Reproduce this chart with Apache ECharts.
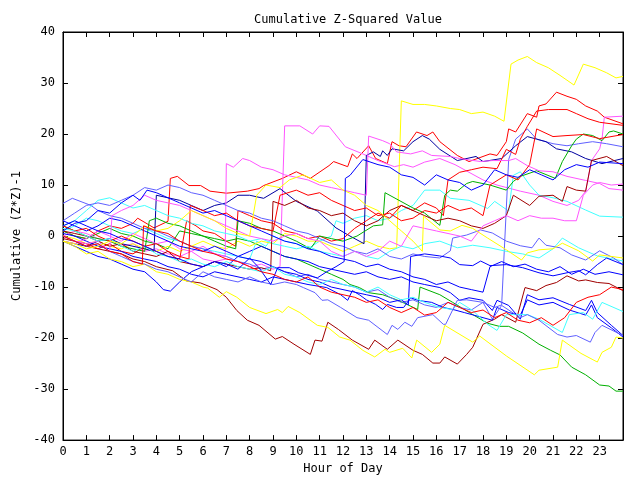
<!DOCTYPE html>
<html><head><meta charset="utf-8">
<script src="https://cdn.jsdelivr.net/npm/echarts@6/dist/echarts.min.js"></script>
<style>html,body{margin:0;padding:0;background:#fff}#c{width:640px;height:480px}</style>
</head><body><div id="c"></div>
<script>
const hourTicks = ['0','1','2','3','4','5','6','7','8','9','10','11','12','13','14','15','16','17','18','19','20','21','22','23'];

const yellowTop = [[0,0],[0.5,-0.5],[1,-1.5],[1.5,-1],[2,-2],[2.5,-2.5],[3,-1.5],[3.5,-2.5],[4,-3],[4.5,-2],[5,-3],[5.5,-2],[6,-1],[6.5,-2],[7,-2.5],[7.5,-1],[8,-2],[8.5,-1],[9,-1.5],[9.5,0.5],[10,0],[10.5,-1],[11,-1],[11.5,-2],[12,-3],[12.5,-2],[13,-1],[13.5,-2],[14,-2.5],[14.3,-2.3],[14.5,26.5],[15,25.8],[15.5,25.8],[16,25.5],[16.6,25],[17,24.8],[17.5,24],[18,24.3],[18.5,23.5],[18.9,22.5],[19.2,33.7],[19.5,34.5],[19.9,35.2],[20.3,34],[20.8,33],[21.3,31.5],[21.9,29.6],[22.3,33.7],[22.8,33],[23.3,32],[23.7,31],[24,31.3]];
const yellowLow = [[0,-1],[0.5,-2],[1,-3.5],[1.5,-3],[2,-4.5],[2.5,-5],[3,-6],[3.5,-5.5],[4,-7],[4.5,-7.5],[5,-8.5],[5.5,-9],[6,-10],[6.2,-10.2],[6.7,-12],[7,-10.9],[7.45,-12],[8,-14],[8.7,-15.2],[9.2,-14.4],[9.4,-15],[9.65,-13.8],[10.15,-15],[10.9,-17.5],[11.35,-17.9],[11.86,-19.8],[12.3,-20.4],[12.85,-22.4],[13.36,-23.7],[13.8,-22.2],[14,-22.8],[14.56,-22],[14.95,-23.9],[15.16,-20.4],[15.8,-22.8],[16.15,-21.2],[16.36,-17.5],[17.56,-20.8],[17.86,-19.6],[19,-23.5],[20.2,-27.2],[20.4,-26.3],[21.2,-25.7],[21.4,-20.4],[22.2,-23],[22.9,-24.7],[23.1,-22.8],[23.5,-21.8],[23.7,-19.8],[24,-20]];
const yellowMid = [[0,-1],[0.5,-1.5],[1,-2.5],[1.5,-2],[2,-1],[2.5,-1.5],[3,0],[3.5,2],[4,1],[4.5,1.5],[5,3],[5.5,5],[6,4],[6.5,3],[7,1.5],[7.5,0.5],[8,0],[8.3,8],[8.7,10],[9.3,9.5],[9.7,11],[10.3,12],[11,10.5],[11.5,11],[12,9],[12.5,8],[13,6],[13.5,5],[14,3],[14.5,1],[15,-1],[15.4,-3],[15.45,3.9],[16.15,1.2],[16.6,1],[17.1,2.1],[17.56,1.5],[18.2,-0.4],[19,-2.7],[19.65,-4.7],[19.9,-3.3],[20.4,-2.7],[21,-2.5],[21.4,-1.4],[22.1,-2.9],[22.7,-4.9],[23,-3.7],[24,-4.3]];
const redTop = [[0,1],[0.5,0],[1,-0.5],[1.5,1],[2,2],[2.5,1.5],[3,2.5],[3.2,3.5],[3.9,1.6],[4.5,2.9],[4.6,11.3],[4.9,11.7],[5.4,9.9],[5.9,9.9],[6.3,8.8],[7,8.4],[7.9,8.8],[8.4,9.3],[8.6,9.9],[9.4,11.3],[10,12.6],[10.6,11.3],[11.4,13.8],[11.6,14.6],[12.2,13.6],[12.4,16.1],[12.6,15.2],[13.1,17.7],[13.4,15.2],[13.9,14.2],[14.1,18.5],[14.4,17.7],[14.7,17.5],[15.15,20.4],[15.6,19.7],[15.85,20.4],[16.15,18.5],[16.9,15.8],[17.4,14.6],[18.3,16.1],[18.6,15.8],[19,18.5],[19.1,21],[19.4,20.4],[19.9,24],[20.3,23.3],[20.4,25.5],[20.7,25.9],[21.15,28.2],[21.6,27.4],[22,26.8],[22.4,25.5],[22.9,24.5],[23.2,23.3],[24,22]];
const redB = [[0,0],[0.5,-1],[1,-1.5],[1.5,-2.5],[2,-1.5],[2.5,-3],[3,-3.5],[3.5,-2],[4,-3],[4.5,-4],[5,-4.5],[5.3,3],[5.7,2],[6,1],[6.5,0.5],[7,-1],[7.4,-2],[7.5,5],[8,4],[8.5,3],[9,2.5],[9.5,1],[10,0.5],[10.5,-0.5],[11,0],[11.5,-1],[12,-0.5],[12.5,1.5],[13,3],[13.5,4.5],[14,3.5],[14.5,6],[15,5],[15.5,6.5],[16,5.5],[16.3,4],[16.5,11],[17,12.5],[17.5,13],[18,13.5],[18.6,13.2],[19,17],[19.4,16],[19.6,19],[19.9,21.5],[20.3,24.5],[20.8,24.8],[21.6,24.8],[22,24],[22.5,23],[23,22.3],[24,21.7]];
const redC = [[0,2],[0.5,1],[1,1.5],[1.5,0],[2,-1],[2.5,0],[3,-1],[3.5,-2],[4,-1.5],[4.5,-3],[5,-4],[5.4,-4.5],[5.45,6],[6,5],[6.5,4],[7,4.5],[7.5,3],[8,2],[8.5,1.5],[9,1],[9.3,8],[10,9],[10.5,8],[11,8.5],[11.5,7],[12,6],[12.5,5],[13,5.5],[13.5,4],[14,4.5],[14.5,3],[15,3.5],[15.5,5],[16,4.5],[16.5,6],[17,5],[17.5,5.5],[18,4],[18.3,10],[19,12],[19.5,11],[20,14],[20.3,21],[21,19.5],[21.6,19.7],[22.3,19.9],[23,19.1],[24,19.9]];
const redLow = [[0,0],[0.5,-1],[1,-2],[1.5,-1.5],[2,-3],[2.5,-3.5],[3,-5],[3.4,-5.5],[3.45,2],[4,1],[4.5,0.5],[5,-1],[5.5,-2],[6,-3],[6.5,-3.5],[7,-4.5],[7.5,-5],[8,-6],[8.5,-7],[9,-7.5],[9.5,-8.5],[10,-9],[10.5,-8],[11,-10],[11.5,-11],[12,-11.5],[12.5,-12],[13,-13],[13.5,-12.5],[14,-14],[14.5,-15],[15,-14],[15.5,-15.5],[16,-15],[16.5,-13],[17,-14],[17.5,-15],[18,-14.5],[18.5,-16],[19,-15],[19.5,-16.5],[20,-17],[20.5,-16],[21,-17.5],[21.5,-16],[22,-13],[22.5,-12],[23,-11.5],[23.5,-10],[24,-10.5]];
const darkRedLow = [[0,-0.5],[0.5,-1],[1,-2],[1.5,-2.5],[2,-3],[2.5,-3.5],[3,-4.5],[3.5,-5],[4,-6],[4.7,-6.8],[5.3,-8.8],[5.9,-9.2],[6.6,-10.5],[7,-12],[7.45,-14.6],[7.9,-16.5],[8.4,-17.5],[9.1,-20.2],[9.4,-19.7],[9.9,-21.2],[10.6,-23.2],[10.8,-20.4],[11.1,-20.6],[11.35,-16.9],[11.8,-18.3],[12.4,-20.4],[13.1,-22.2],[13.36,-20.4],[13.9,-22.2],[14.35,-20.4],[15,-22.4],[15.4,-23.2],[15.85,-24.9],[16.15,-24.9],[16.36,-23.7],[16.9,-25.1],[17.3,-23.2],[17.56,-21.8],[18,-17.3],[18.5,-16.3],[18.8,-15.4],[19.4,-16.9],[19.8,-10.1],[20.3,-10.7],[20.7,-9.7],[21.15,-9.1],[21.6,-7.8],[22.1,-8.8],[22.4,-8.6],[22.9,-9.1],[23.4,-9.3],[24,-10.7]];
const darkRedRise = [[0,1],[0.5,0.5],[1,0],[1.5,-1],[2,-2],[2.5,-1.5],[3,-3],[3.5,-3.5],[4,-4],[4.5,-3],[5,-5],[5.5,-5.5],[6,-6],[6.5,-5],[7,-5.5],[7.5,-6],[8,-6.5],[8.5,-6.2],[8.9,-6.8],[9,6.8],[9.5,6],[10,7],[10.5,5.5],[11,5],[11.5,4],[12,4.5],[12.5,3],[13,2],[13.5,3],[14,5],[14.5,6],[15,5],[15.5,4],[16,3],[16.5,3.5],[17,3],[17.5,2],[18,1.5],[18.5,2.5],[19,4],[19.3,8],[20,6],[20.4,7.8],[21,8],[21.4,6.8],[21.6,9.7],[22,9],[22.4,8.8],[22.65,14.8],[23.3,15.6],[24,13.8]];
const greenLow = [[0,1],[0.5,0],[1,-0.5],[1.5,0.5],[2,1.5],[2.5,0.5],[3,0],[3.5,-1],[4,-1.5],[4.5,-2.5],[5,1],[5.5,0.5],[6,0],[6.5,-0.5],[7,-1],[7.5,-0.5],[8,-1],[8.5,-2],[9,-3],[9.5,-4],[10,-4.5],[10.5,-5.5],[11,-6.5],[11.5,-7.5],[12,-8.5],[12.3,-9.5],[12.7,-10.1],[13.1,-11.1],[13.7,-11.5],[14.3,-12.5],[14.65,-13.2],[15.2,-14.4],[15.3,-10],[16.15,-11.5],[16.7,-13],[17.56,-15.4],[18.2,-17.1],[18.7,-17.7],[19.1,-17.7],[19.7,-19],[20.4,-21.2],[20.9,-22.4],[21.3,-23.3],[21.8,-25.7],[22.4,-27.2],[23,-29.2],[23.4,-29.4],[23.7,-30.4],[24,-30.4]];
const greenHigh = [[0,2],[0.5,1],[1,0],[1.5,-0.5],[2,-1],[2.5,-2],[3,-2.5],[3.5,-3],[3.7,3],[4,3.5],[4.5,2.5],[5,2],[5.5,1],[6,0],[6.5,-1],[7,-2],[7.4,-2.5],[7.5,3],[8,2.5],[8.5,1.5],[9,1],[9.5,0],[10,-1],[10.6,-2.5],[11,0],[11.5,-0.5],[12,-1],[12.6,0],[13.3,2],[13.7,2.2],[13.8,8.5],[14.4,7],[15,5.5],[15.5,4.5],[16.15,2.1],[16.36,8],[16.6,9],[16.9,8.8],[17.3,10.3],[17.56,10.7],[18.3,10],[19,9],[19.3,10.7],[19.6,11.7],[20.3,12.8],[21.1,11.3],[21.4,14.6],[21.8,17.7],[22,19],[22.3,20],[22.7,19.7],[23.1,18.7],[23.4,20.4],[23.6,20.6],[24,20]];
const navyTop = [[0,-1],[0.5,-1.5],[1,-2],[1.5,-1],[2,-0.5],[2.5,-1.5],[3,-2],[3.5,-2.5],[3.9,-3],[4,8],[4.5,7.5],[5,7],[5.5,6],[6,5],[6.5,6],[7,6.5],[7.5,8],[8,8],[8.6,7.4],[9.3,9.3],[10,6.8],[10.9,4.9],[11.7,1.6],[12.3,0],[12.9,-1.5],[13,15.8],[13.3,16.5],[13.6,15.6],[13.7,16.7],[13.9,15.8],[14.1,17.1],[14.6,16.7],[15,18.5],[15.4,19.7],[15.7,19],[16.15,17],[16.9,14.8],[17.7,15.6],[18,14.6],[18.8,15.2],[19.4,17.7],[19.9,19.5],[20.3,19],[20.7,18.5],[21.15,17.1],[21.8,16.5],[22.4,15.2],[23.1,14.2],[24,15.2]];
const blueJump = [[0,2],[0.5,3],[1,2],[1.5,1],[2,0.5],[2.5,-0.5],[3,-1],[3.5,-2],[4,-3],[4.5,-4],[5,-4.5],[5.5,-5.5],[6,-6],[6.5,-5],[7,-5.5],[7.5,-6.5],[8,-4.3],[8.4,-6.2],[8.9,-9.5],[9.2,-6.2],[9.7,-6.2],[10.1,-7.2],[10.9,-8.2],[11.3,-7],[11.7,-6],[12.05,-5],[12.1,11.3],[12.3,11.9],[12.85,15],[13.5,14],[14,13.5],[14.5,12],[15,11.5],[15.5,10],[16,12],[16.5,11],[17,10.5],[17.5,9],[18,10],[18.5,13],[19,12],[19.5,11.5],[20,13],[20.5,12],[21,11],[21.5,13],[22,14],[22.5,13.5],[23,14.5],[24,14.2]];
const lightBlueJump = [[0,6.4],[0.4,7.4],[1.2,6],[1.5,5],[2,4],[2.5,3.5],[3,2.5],[3.5,1.5],[4,1],[4.5,0],[5,-1],[5.5,-2],[6,-2.5],[6.5,-3.5],[7,-4],[7.5,-5],[8,-5.5],[8.5,-6.5],[9,-6],[9.5,-7],[10,-8],[10.5,-7.5],[11,-8.5],[11.5,-9],[12,-9.5],[12.5,-10],[13,-11],[13.5,-10.5],[14,-12],[14.5,-13],[15,-12.5],[15.5,-13.5],[16,-14],[16.5,-13],[17,-14],[17.5,-14.5],[18,-13],[18.5,-14],[18.8,-13.5],[19.1,15],[19.4,19],[19.9,21],[20.3,19],[21,18.1],[21.6,17.7],[22.1,18.1],[22.7,18.5],[23.3,18.1],[24,17.5]];
const lightBlueMid = [[0,3],[0.5,4.5],[1,6],[1.5,6.5],[2,6],[2.5,7],[3,8],[3.5,9.5],[4,9],[4.5,10],[5,9.5],[5.5,8.5],[6,8],[6.5,7],[7,6],[7.5,5],[8,4.5],[8.5,3.5],[9,3],[9.5,2],[10,1],[10.5,0.5],[11,-0.5],[11.5,-1.5],[12,-2],[12.5,-3],[13,-3.5],[13.5,-2.5],[14,-4],[14.5,-4.5],[15,-3.5],[15.5,-4],[16.15,-4.3],[16.6,-2.9],[16.7,-0.4],[17.3,0.2],[17.9,1.2],[18.4,0.6],[19,-1],[19.6,-1.9],[20.1,-2.3],[20.4,-0.4],[20.7,-1.8],[21.3,-2.3],[21.8,-3.7],[22.4,-4.7],[23,-2.9],[23.6,-4.3],[24,-5.6]];
const lightBlueLow = [[0,0],[0.5,-1],[1,-2],[1.5,-1.5],[2,-3],[2.5,-4],[3,-5],[3.5,-5.5],[4,-6.5],[4.5,-7],[5,-8],[5.5,-9],[6,-7],[6.5,-8],[7,-8.5],[7.5,-9],[8,-8],[8.5,-9],[9,-9.5],[9.5,-9],[10,-9.5],[10.3,-10.1],[10.8,-11.1],[11.1,-12.6],[11.35,-12.5],[11.9,-14],[12.6,-16],[13.1,-16.5],[13.9,-19.3],[14.1,-17.5],[14.35,-18.3],[14.65,-16.9],[14.95,-17.7],[15.2,-16],[15.85,-15.4],[16.3,-17.3],[16.4,-17.3],[16.9,-12.6],[17.3,-12.5],[18,-13],[18.4,-16.3],[18.8,-13.6],[19.6,-16],[19.9,-15.4],[20.4,-16.5],[21.2,-19.3],[21.6,-19.8],[22,-19.5],[22.6,-20.8],[22.8,-18.9],[23.1,-17.5],[24,-19.5]];
const blueLowA = [[0,-1],[0.5,-2],[1,-3],[1.5,-4],[2,-4.5],[2.5,-5.5],[3,-6.5],[3.5,-7],[4,-9],[4.3,-10.5],[4.6,-10.8],[5,-9],[5.5,-7],[6,-6],[6.5,-5],[7,-6],[7.5,-4],[8,-3],[8.5,-2],[9,-3],[9.5,-4],[10,-4.5],[10.5,-5],[11,-6],[11.5,-6.5],[12,-7],[12.5,-7.5],[13,-7],[13.5,-8],[14,-8.5],[14.5,-8],[15,-9],[15.5,-9.5],[16.15,-10.1],[16.6,-11.1],[17,-12.6],[17.4,-12.1],[18,-12.6],[18.4,-14.6],[18.6,-12.6],[19.1,-13.6],[19.6,-16.3],[19.9,-11.5],[20.4,-12.5],[21,-12.1],[21.7,-13.4],[22.4,-14.6],[22.65,-12.6],[22.9,-15],[23.5,-17.5],[24,-19.5]];
const blueLowB = [[0,0.5],[0.5,0],[1,-1],[1.5,-2],[2,-2.5],[2.5,-3],[3,-4],[3.5,-4.5],[4,-5],[4.5,-6],[5,-6.5],[5.5,-7.5],[6,-8],[6.5,-7],[7,-7.5],[7.5,-8],[8,-8.5],[8.5,-9],[9,-8],[9.5,-8.5],[10,-9],[10.5,-9.5],[11.3,-10.1],[11.9,-11.5],[12.2,-12.6],[12.4,-10.7],[12.7,-11.5],[13,-12.5],[13.4,-13.4],[13.7,-14.4],[13.9,-13.4],[14.3,-14],[14.6,-14],[14.9,-12.1],[15.2,-12.6],[15.8,-13],[16.3,-14],[16.8,-14.5],[17.2,-15],[17.6,-15.5],[18,-16],[18.4,-16.5],[18.6,-14],[19.1,-15],[19.6,-15.5],[19.9,-12.5],[20.4,-13.5],[21,-13],[21.7,-14.5],[22.4,-15.5],[22.65,-13.5],[22.9,-16],[23.5,-18],[24,-19.8]];
const blueMid = [[0,3],[0.5,2],[1,1],[1.5,2],[2,3.5],[2.5,3],[3,2],[3.5,1],[4,0],[4.5,-1],[5,-2],[5.5,-2.5],[6,-3],[6.5,-2],[7,-3],[7.5,-4],[8,-4.5],[8.5,-5],[9,-6],[9.5,-7],[10,-7.5],[10.5,-8.5],[11,-9],[11.5,-10],[12,-10.5],[12.5,-11],[13,-11.5],[13.5,-12],[14,-13],[14.5,-12.5],[14.8,-13.5],[14.9,-4],[15.5,-3.5],[16.15,-3.9],[16.6,-4.3],[17,-5.6],[17.56,-5.8],[17.9,-4.9],[18.3,-5.8],[19,-5.6],[19.7,-6.2],[20.4,-7.2],[21,-7.8],[21.6,-7.2],[22.1,-6.8],[22.4,-7.6],[22.9,-5.6],[23.3,-4.3],[24,-5.6]];
const blueUpper = [[0,1],[0.5,2.5],[1,3],[1.5,5],[2,4.5],[2.5,6.5],[3,8],[3.3,7],[3.6,9],[4,8.5],[4.5,7.5],[5,6.5],[5.5,5.5],[6,4.5],[6.5,5],[7,4],[7.5,3],[8,2],[8.5,1],[9,0],[9.5,-1],[10,-1.5],[10.5,-2.5],[11,-3],[11.5,-4],[12,-4.5],[12.5,-5],[13,-6],[13.5,-5.5],[14,-6.5],[14.5,-7],[15,-8],[15.5,-8.5],[16,-9.5],[16.5,-9],[17,-10],[17.5,-10.5],[18,-11],[18.3,-6],[18.8,-5],[19.3,-6],[19.8,-5.5],[20.3,-6.5],[20.8,-7],[21.3,-6],[21.8,-7.5],[22.3,-6.5],[22.8,-7.5],[23.4,-7],[24,-7.6]];
const magentaTop = [[0,0],[0.5,1],[1,0.5],[1.5,-0.5],[2,-1],[2.5,-2],[3,-1.5],[3.5,-3],[4,-2.5],[4.5,-3.5],[5,-4],[5.5,-3],[6,-4.5],[6.5,-5],[7,-4.5],[7.5,-5],[8,-6],[8.5,-5.5],[9,-6.5],[9.3,-6],[9.5,21.6],[10.15,21.6],[10.7,20],[11,21.6],[11.4,21.5],[12.1,17.5],[12.9,16],[13.5,14.8],[14.2,13.6],[14.6,14],[15,13.5],[15.5,14.5],[16.15,15.2],[16.8,14],[17.4,12.5],[18,11],[18.6,10],[19.6,8.8],[20.4,8],[21,6.8],[21.6,6],[22.1,7],[22.4,8.8],[22.65,14.8],[23,17.1],[23.1,19],[23.2,23.3],[24,23.5]];
const magentaMid = [[0,-1],[0.5,-1.5],[1,-0.5],[1.5,1],[2,0],[2.5,-1],[3,0.5],[3.5,-0.5],[4,-1.5],[4.5,-1],[5,-2.5],[5.5,-3],[6,-2],[6.5,-3.5],[6.95,-4],[7,14.2],[7.3,13.5],[7.7,15.2],[8,14.8],[8.5,13.5],[9,13],[9.5,12],[10,11.5],[10.5,11],[11,10],[11.5,9.5],[12,9],[12.5,8.5],[13,8],[13.1,19.6],[13.7,18.7],[14,18.1],[14.3,16.5],[14.9,16.1],[15.4,16.7],[15.8,15.8],[16.6,15.6],[17,15.2],[17.9,14.6],[18.4,14.8],[19.1,14.8],[19.4,15.2],[19.9,13.8],[20.4,12.8],[21,12.6],[21.6,11.7],[22.4,10.9],[23,10.3],[23.4,9.3],[24,9]];
const magentaLow = [[0,0],[0.5,-1],[1,-1.5],[1.5,-1],[2,-3],[2.1,4],[2.5,5],[3,6],[3.5,8],[4,7],[4.5,6.5],[5,6],[5.5,5],[6,4],[6.5,3],[7,2],[7.5,1],[8,0],[8.5,-0.5],[9,-1],[9.5,0],[10,0.5],[10.5,-0.5],[11,-1],[11.5,-3],[12,-4],[12.5,-3],[13,-4],[13.5,-3],[14,-1],[14.5,-2],[15,2],[15.5,1.5],[16,1],[16.5,0.5],[17,0],[17.5,-1],[18,2],[18.5,3],[19,4],[19.5,3],[20,4],[20.5,3.5],[21,3.5],[21.5,3],[22,3],[22.3,8],[22.7,10],[23,10.5],[23.5,10],[24,10.2]];
const cyanHigh = [[0,1],[0.5,2],[1,3.5],[1.5,3],[2,2],[2.5,1],[3,0.5],[3.5,1.5],[4,0.5],[4.5,-0.5],[5,-1],[5.5,-2],[6,-2.5],[6.5,-3],[7,-3.5],[7.5,-4],[8,-4.5],[8.3,-1],[8.7,-2],[9,0],[9.5,-1],[10,-1.5],[10.5,-2.5],[11,-1],[11.5,0],[11.7,3],[12,2.5],[12.5,3.5],[13,4],[13.5,3],[14,3.5],[14.5,5],[15,6],[15.5,9],[16.15,9],[16.6,7.4],[17.4,7],[18.2,5.4],[18.5,6.8],[19.1,4.9],[19.3,11.9],[19.6,12.6],[20,10],[20.4,8],[21,7.5],[21.6,6.8],[22.4,5.1],[23,3.9],[24,3.7]];
const cyanMid = [[0,2],[0.5,3],[1,5],[1.5,7],[2,7.5],[2.5,6.5],[3,5.5],[3.5,6],[4,5],[4.5,4],[5,3.5],[5.5,2.5],[6,2],[6.5,1],[7,0.5],[7.5,0],[8,-1],[8.5,-0.5],[9,-1.5],[9.5,-2],[10,-2.5],[10.5,-2],[11,-3],[11.5,-3.5],[12,-4],[12.5,-3],[13,-4],[13.5,-4.5],[14,-3],[14.5,-2],[15,-2.5],[15.5,-1.5],[16.15,-1],[16.9,-2.3],[17.56,-1.8],[18.3,-2.3],[19,-3],[19.7,-3.5],[20.4,-4.3],[21,-2.5],[21.4,-0.4],[22.1,-2.3],[22.9,-3.9],[24,-4.9]];
const cyanLow = [[0,1.5],[0.5,1],[1,0],[1.5,-1],[2,-0.5],[2.5,-2],[3,-3],[3.5,-2],[4,-3.5],[4.5,-4],[5,-5],[5.5,-4.5],[6,-5.5],[6.5,-6],[7,-5],[7.5,-6],[8,-6.5],[8.5,-7],[9,-6],[9.5,-7.5],[10,-8],[10.5,-9],[11,-9.5],[11.5,-8.5],[12,-9.5],[12.5,-10],[13,-11],[13.5,-10],[14,-11.5],[14.5,-12.5],[15,-12],[15.5,-13],[16.15,-14],[16.7,-14.4],[17,-13],[17.56,-14.6],[18.2,-17.3],[18.6,-18.5],[19,-15.4],[19.9,-15.4],[20.4,-16.3],[21.4,-18.9],[21.7,-15.4],[22.3,-15],[22.7,-16.3],[23.1,-13],[24,-14.8]];

const RED='#ff0000', GREEN='#00b000', BLUE='#0000ff', LBLUE='#6060ff', NAVY='#0000a0', MAG='#ff55ff', CYAN='#40ffff', DRED='#a00000', YEL='#ffff00';
const lines = [
  [redTop,RED],[greenLow,GREEN],[blueLowA,BLUE],[magentaTop,MAG],[cyanHigh,CYAN],[darkRedLow,DRED],[yellowTop,YEL],[lightBlueJump,LBLUE],[navyTop,NAVY],
  [redB,RED],[greenHigh,GREEN],[blueLowB,BLUE],[magentaMid,MAG],[cyanMid,CYAN],[darkRedRise,DRED],[yellowLow,YEL],[lightBlueMid,LBLUE],[blueMid,BLUE],
  [redC,RED],[magentaLow,MAG],[cyanLow,CYAN],[yellowMid,YEL],[lightBlueLow,LBLUE],[blueJump,BLUE],[redLow,RED],[blueUpper,BLUE]
];
const FONT = 'DejaVu Sans Mono';
const chart = echarts.init(document.getElementById('c'));
const axisCommon = {
  axisLine:{show:true,onZero:false,lineStyle:{color:'#000',width:1}},
  axisTick:{show:true,inside:true,length:5,lineStyle:{color:'#000'}},
  splitLine:{show:false}
};
chart.setOption({
  animation:false,
  backgroundColor:'#fff',
  title:{text:'Cumulative Z-Squared Value',left:343,textAlign:'center',top:9,textStyle:{fontFamily:FONT,fontSize:12,fontWeight:'normal',color:'#000'}},
  grid:{left:63,right:17,top:32,bottom:37,show:true,borderColor:'#000',borderWidth:1},
  xAxis:[
    Object.assign({type:'value',min:0,max:24,interval:1,name:'Hour of Day',nameLocation:'middle',nameGap:20,
      nameTextStyle:{fontFamily:FONT,fontSize:12,color:'#000'},
      axisLabel:{fontFamily:FONT,fontSize:12,color:'#000',margin:6,formatter:v=>hourTicks[v]!==undefined?hourTicks[v]:''}},axisCommon),
    Object.assign({type:'value',min:0,max:24,interval:1,position:'top',axisLabel:{show:false}},axisCommon)
  ],
  yAxis:[
    Object.assign({type:'value',min:-40,max:40,interval:10,name:'Cumulative (Z*Z)-1',nameLocation:'middle',nameGap:34,
      nameTextStyle:{fontFamily:FONT,fontSize:12,color:'#000'},
      axisLabel:{fontFamily:FONT,fontSize:12,color:'#000',margin:8}},axisCommon),
    Object.assign({type:'value',min:-40,max:40,interval:10,position:'right',axisLabel:{show:false}},axisCommon)
  ],
  series: lines.map(([d,c])=>({type:'line',data:d,showSymbol:false,symbol:'none',lineStyle:{width:1,color:c},itemStyle:{color:c},silent:true}))
});
</script></body></html>
